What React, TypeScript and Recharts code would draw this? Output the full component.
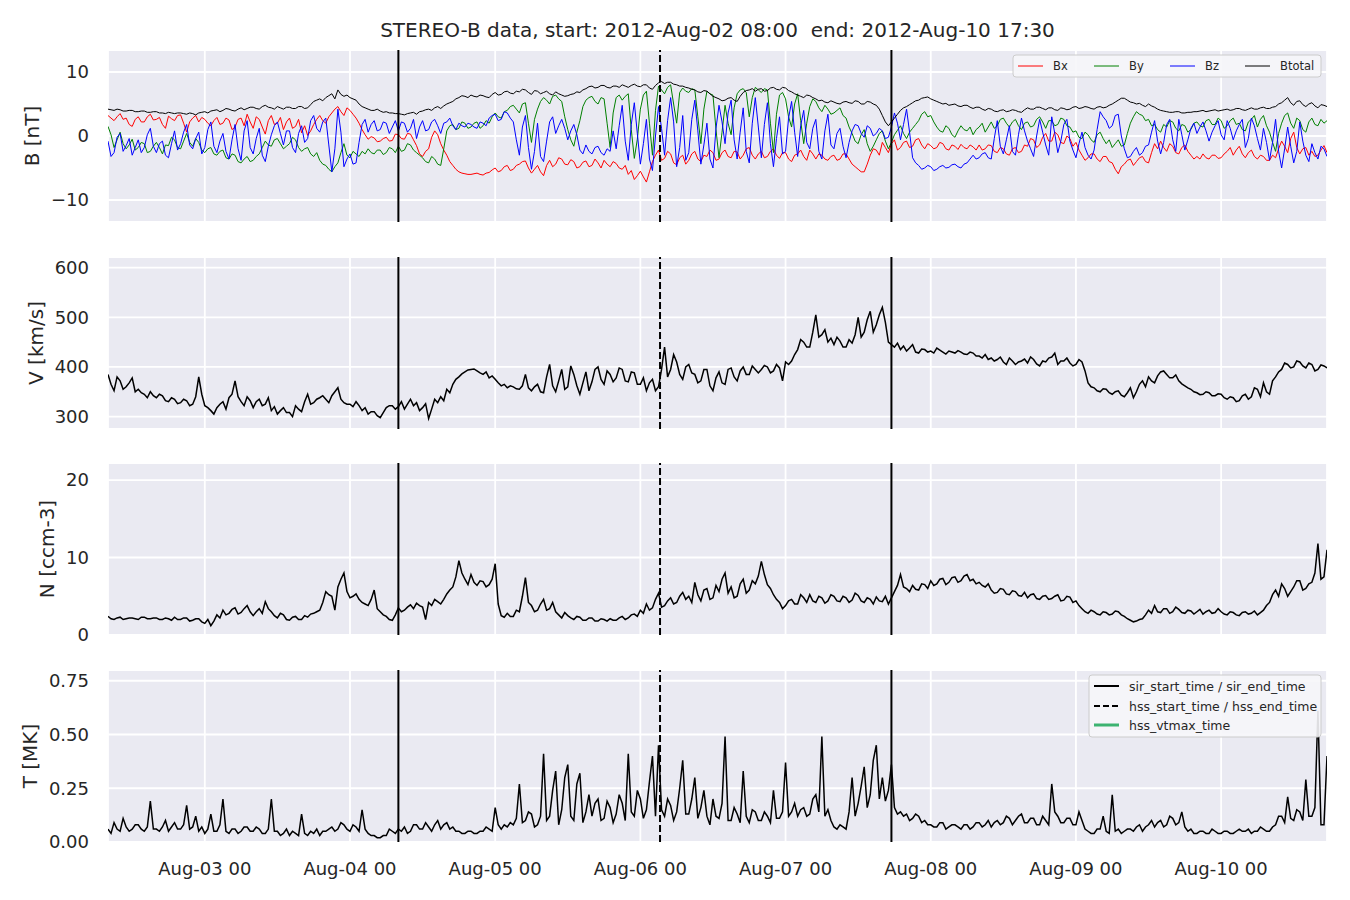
import React from 'react';
import { LineChart, Line, XAxis, YAxis, CartesianGrid, ReferenceLine } from 'recharts';

// ---- time axis ----
const START = Date.UTC(2012, 7, 2, 8, 0);
const END = Date.UTC(2012, 7, 10, 17, 30);
const STEP = 30 * 60 * 1000; // samples every 30 minutes
const TICK_DAYS = [3, 4, 5, 6, 7, 8, 9, 10];
const TICK_LABELS = ['Aug-03 00', 'Aug-04 00', 'Aug-05 00', 'Aug-06 00', 'Aug-07 00', 'Aug-08 00', 'Aug-09 00', 'Aug-10 00'];
const TICK_TIMES = TICK_DAYS.map((d) => Date.UTC(2012, 7, d, 0, 0));
const SIR_TIMES = [Date.UTC(2012, 7, 4, 8, 0), Date.UTC(2012, 7, 7, 17, 30)];
const HSS_TIMES = [Date.UTC(2012, 7, 6, 3, 15)];

const TITLE = 'STEREO-B data, start: 2012-Aug-02 08:00  end: 2012-Aug-10 17:30';

// ---- half-hourly samples from 2012-08-02 08:00 (24 per row = 12 h) ----
const BT = [
  4.2,4.1, 4.0,4.2, 4.1,3.9, 3.9,4.0, 4.0,3.8, 3.8,3.9, 3.9,3.7, 3.7,3.8, 3.8,3.6, 3.6,3.5, 3.7,3.6, 3.5,3.6,
  3.6,3.5, 3.4,3.6, 3.5,3.3, 3.6,3.7, 3.8,3.6, 3.9,4.0, 4.1,3.8, 4.0,4.3, 4.2,4.0, 3.9,4.2, 4.4,4.1, 4.3,4.5,
  4.5,4.3, 4.2,4.6, 4.8,4.5, 4.4,4.2, 4.6,4.4, 4.2,4.5, 4.5,4.3, 4.3,4.6, 4.6,4.3, 4.4,4.9, 5.4,5.6, 5.8,5.5,
  6.0,6.3, 6.6,5.8, 7.2,6.5, 6.2,6.4, 6.0,5.8, 5.6,5.0, 4.6,4.4, 4.2,4.0, 4.0,4.2, 3.9,3.7, 3.8,3.6, 3.6,3.5,
  3.5,3.4, 3.3,3.5, 3.6,3.7, 3.4,3.8, 3.9,4.1, 4.2,4.0, 4.4,4.6, 4.3,4.7, 5.0,5.2, 5.4,5.8, 6.0,6.3, 6.2,6.0,
  6.4,6.2, 6.1,6.4, 6.3,6.1, 6.0,6.5, 6.8,6.4, 6.5,6.9, 7.0,6.7, 6.6,7.0, 6.9,7.3, 7.2,6.8, 6.5,7.1, 7.0,6.6,
  6.8,7.0, 6.6,6.4, 6.9,6.6, 6.4,6.2, 6.3,6.5, 6.6,6.9, 6.8,7.2, 7.4,7.7, 7.8,7.5, 7.6,7.9, 7.9,7.6, 7.5,7.8,
  7.8,7.6, 8.0,7.8, 7.6,7.9, 8.1,7.8, 7.7,8.0, 8.0,7.5, 7.3,7.9, 8.3,8.5, 8.2,8.4, 8.4,8.1, 8.0,7.8, 7.8,7.6,
  7.5,7.3, 7.2,6.9, 6.8,7.1, 7.0,6.6, 6.2,6.0, 5.8,5.5, 5.6,5.9, 6.0,5.6, 5.4,6.2, 6.8,7.1, 7.2,7.4, 7.0,7.3,
  7.4,7.0, 7.1,7.5, 7.6,7.3, 7.2,7.6, 7.5,7.1, 6.9,6.6, 6.4,6.2, 6.0,6.4, 6.3,6.0, 5.8,5.5, 5.6,5.3, 5.2,5.5,
  5.3,5.1, 5.0,5.3, 5.4,5.2, 5.1,5.5, 5.4,5.0, 5.0,5.4, 5.3,5.0, 4.8,4.2, 3.2,2.2, 1.6,2.2, 2.8,3.4, 4.0,4.4,
  4.6,4.9, 5.2,5.5, 5.6,5.9, 6.0,6.1, 5.8,5.6, 5.4,5.2, 5.0,5.1, 4.8,4.9, 5.0,4.7, 4.6,4.8, 4.8,4.5, 4.3,4.5,
  4.5,4.2, 4.0,4.3, 4.2,3.9, 3.8,4.0, 4.1,3.8, 3.9,4.1, 4.0,3.8, 3.7,4.1, 4.4,4.2, 4.2,4.5, 4.5,4.3, 4.1,4.4,
  4.4,4.1, 4.0,4.4, 4.3,4.1, 4.2,4.5, 4.6,4.3, 4.4,4.6, 4.5,4.3, 4.2,4.5, 4.6,4.4, 4.5,4.8, 5.0,5.3, 5.6,5.9,
  5.9,5.6, 5.3,5.2, 5.0,5.1, 4.8,4.6, 5.0,4.7, 4.5,4.2, 4.0,3.9, 3.8,3.7, 3.7,3.8, 3.8,3.6, 3.6,3.7, 3.7,3.8,
  3.8,3.9, 4.0,3.8, 3.9,4.0, 4.1,3.9, 4.0,4.1, 4.2,4.0, 4.1,4.3, 4.3,4.1, 4.0,4.2, 4.4,4.2, 4.2,4.4, 4.5,4.3,
  4.3,4.5, 4.6,5.0, 5.2,5.6, 6.0,5.2, 4.8,5.4, 5.5,4.9, 4.6,5.0, 5.2,4.7, 4.4,4.9, 4.8,4.6,
];

const BX = [
  3.2,2.8, 2.4,3.0, 3.5,2.6, 2.8,1.8, 1.5,2.6, 3.0,2.2, 2.2,3.0, 3.4,2.5, 2.6,2.9, 1.8,1.2, 3.1,2.7, 2.4,3.2,
  3.3,2.0, 0.6,2.2, 2.8,3.2, 2.2,2.9, 2.6,2.0, 1.6,2.4, 2.9,1.8, 2.0,2.8, 2.5,1.0, 1.4,2.6, 2.8,1.6, 3.4,2.2,
  1.2,3.0, 2.6,1.4, 0.3,2.4, 3.2,1.8, 2.0,2.9, 1.0,2.2, 2.8,1.2, 1.5,2.6, 0.5,1.6, 0.1,0.8, 1.8,2.6, 3.2,2.4,
  2.0,3.0, 3.6,4.2, 4.6,3.8, 3.2,4.4, 4.0,3.4, 2.8,2.0, 1.0,0.2, -0.5,-0.1, -0.3,-0.9, -0.8,-0.4, -0.2,-0.8, -0.7,0.3,
  0.2,-0.4, -0.5,0.4, 0.3,-0.6, -1.5,-2.8, -3.2,-2.4, -2.0,-0.2, 0.8,0.2, -1.2,-2.2, -3.0,-4.0, -4.6,-5.2, -5.6,-5.8, -5.9,-6.0,
  -6.0,-5.9, -5.8,-6.0, -6.1,-5.8, -5.7,-5.3, -5.0,-5.6, -5.4,-4.8, -4.6,-5.4, -5.2,-4.6, -4.4,-4.0, -3.9,-5.0, -5.8,-5.2, -4.6,-5.6,
  -6.2,-4.6, -3.8,-4.8, -4.4,-3.4, -3.6,-4.4, -4.5,-3.7, -4.0,-5.0, -4.8,-4.1, -3.9,-4.8, -4.6,-3.6, -4.2,-5.0, -3.8,-4.4, -4.8,-4.0,
  -4.3,-5.0, -5.2,-4.6, -6.0,-5.4, -6.8,-6.2, -5.5,-6.4, -7.2,-5.6, -4.0,-3.0, -2.2,-3.8, -3.5,-2.4, -2.8,-4.2, -4.5,-3.4, -3.0,-4.4,
  -3.8,-2.8, -2.4,-3.6, -4.0,-3.0, -3.2,-2.2, -2.6,-3.8, -3.6,-2.6, -2.2,-3.2, -3.4,-2.4, -2.5,-3.6, -3.0,-2.0, -1.8,-3.0, -3.6,-2.8,
  -2.4,-3.4, -3.2,-2.4, -2.0,-3.0, -3.5,-2.6, -2.6,-3.6, -4.0,-3.0, -2.8,-2.2, -3.2,-3.8, -2.2,-2.8, -3.6,-2.8, -3.0,-3.6, -3.8,-3.2,
  -3.0,-3.8, -3.6,-2.8, -2.8,-3.6, -4.4,-4.8, -5.2,-5.6, -5.6,-4.4, -3.0,-2.0, -2.2,-3.0, -1.0,-1.8, -2.6,-1.2, -0.6,-2.2, -1.8,-1.0,
  -0.8,-1.8, -1.6,-0.6, -0.4,-1.4, -2.0,-1.2, -1.5,-2.0, -1.8,-1.0, -1.2,-2.0, -2.2,-1.4, -1.6,-2.1, -1.3,-1.8, -2.0,-1.4, -1.7,-2.2,
  -1.4,-2.2, -2.0,-1.4, -1.5,-2.4, -2.6,-1.8, -2.0,-2.8, -3.0,-2.0, -1.8,-2.6, -2.4,-1.4, -1.6,-0.4, -0.6,-1.8, -1.4,-0.2, 0.4,-0.8,
  -0.8,0.6, 0.2,-1.0, -1.2,0.0, -0.4,-1.6, -1.0,-2.2, -3.0,-3.8, -3.4,-2.8, -2.8,-3.6, -4.0,-3.2, -3.2,-4.0, -4.2,-5.2, -5.9,-4.8,
  -4.4,-3.8, -3.6,-4.6, -4.0,-3.4, -3.2,-4.0, -4.2,-2.6, -1.2,-2.0, -0.8,-1.8, -2.4,-1.2, -1.6,-2.6, -2.8,-1.8, -1.4,-2.4, -3.0,-3.6,
  -3.2,-3.6, -2.8,-3.4, -3.6,-3.0, -3.0,-3.5, -3.4,-2.8, -2.4,-1.8, -3.0,-2.2, -1.6,-2.8, -3.4,-2.6, -2.2,-3.2, -3.6,-3.0, -3.2,-3.8,
  -3.8,-3.0, -3.4,-2.0, -0.8,-1.6, -2.6,-0.4, 0.6,-1.8, -2.8,-2.0, -1.8,-3.0, -2.4,-3.2, -3.0,-2.2, -1.5,-2.6,
];

const BY = [
  1.5,0.2, -1.8,-0.6, 0.6,-1.2, -2.0,-1.4, -0.5,-2.2, -1.8,-1.0, -1.2,-2.6, -2.4,-1.6, -1.0,-1.8, -2.8,-1.4, -1.5,-0.2, -0.6,-1.8,
  -2.0,-0.8, 0.4,-1.0, -1.6,-0.4, -1.0,-2.2, -2.6,-2.0, -1.8,-2.8, -3.0,-2.4, -2.2,-3.4, -3.6,-2.8, -3.0,-4.0, -4.2,-3.6, -3.2,-4.0,
  -3.8,-3.2, -2.8,-1.8, -0.8,-1.4, -1.6,-0.6, -0.4,-1.2, -2.0,-1.6, -1.2,-0.2, -0.6,-1.8, -2.4,-2.0, -1.8,-2.8, -3.2,-2.6, -3.8,-4.4,
  -4.6,-5.2, -5.6,-4.8, -4.2,-2.6, -1.2,-3.0, -3.4,-2.4, -2.8,-3.2, -2.4,-2.8, -2.0,-2.6, -2.8,-2.2, -2.2,-2.9, -2.6,-1.8, -2.0,-2.6,
  -1.6,-2.4, -2.2,-1.2, -1.4,-2.2, -2.6,-3.0, -3.4,-4.0, -4.2,-3.2, -3.6,-4.4, -4.6,-2.0, 0.8,1.6, 1.8,1.0, 1.2,2.2, 2.0,1.2,
  1.4,2.0, 2.2,1.2, 1.6,2.4, 2.0,3.0, 3.6,3.0, 2.8,3.8, 4.0,4.6, 4.8,4.2, 3.6,5.0, 5.2,2.0, -1.0,2.6, 4.2,5.4,
  6.0,5.6, 5.0,6.2, 6.4,5.8, 5.4,3.0, 1.0,-0.6, -1.6,0.6, 2.4,4.6, 5.6,6.0, 6.2,5.4, 5.0,6.0, 5.8,2.0, -1.8,3.6,
  6.0,6.4, 5.6,6.2, 6.6,1.0, -3.5,-0.5, 4.2,6.4, 7.0,2.0, -3.0,4.0, 7.8,7.2, 6.6,7.6, 8.0,5.0, 2.0,6.8, 7.5,7.0,
  6.8,7.4, 7.2,3.0, -1.2,4.2, 7.0,6.6, 6.4,1.0, -3.4,0.6, 4.8,2.0, 0.2,4.4, 6.6,7.2, 7.4,6.8, 3.0,6.0, 7.6,7.2,
  6.8,7.4, 7.2,2.0, -2.6,3.4, 6.4,6.8, 5.8,3.0, 1.4,5.0, 6.6,2.4, -1.2,2.0, 4.6,5.8, 5.4,4.4, 3.8,4.8, 4.2,3.4,
  3.6,4.0, 4.4,3.2, 2.8,1.4, 0.4,-0.8, -1.2,0.2, 1.0,-1.2, -2.4,-1.6, -0.6,0.4, 0.8,-0.8, -2.0,-1.0, 0.2,0.9, 1.6,0.4,
  -0.4,0.6, 1.2,1.8, 2.4,3.4, 3.8,3.0, 3.2,2.2, 1.4,0.8, 0.6,1.6, 1.2,0.2, -0.2,0.8, 1.6,1.0, 0.8,1.4, 0.2,1.0,
  1.4,2.0, 0.6,1.4, 2.2,1.2, 1.6,2.6, 2.8,2.0, 1.4,2.2, 2.6,1.6, 1.0,2.0, 2.2,1.4, 1.6,2.6, 3.0,2.2, 1.2,2.4,
  2.4,1.6, 1.8,2.8, 2.6,1.6, 1.4,0.6, 0.8,-0.2, -0.4,0.6, 0.2,-0.6, -1.0,0.2, 0.6,-0.4, -1.2,-0.6, -1.8,-1.2, -0.6,-1.6,
  -1.4,0.4, 2.0,3.0, 3.8,3.4, 3.2,2.4, 2.6,1.6, 1.8,1.0, 0.6,1.8, 1.4,2.4, 2.2,1.2, 0.8,1.8, 1.6,0.6, 1.0,2.0,
  2.2,1.6, 1.4,2.4, 2.6,1.8, 1.8,2.8, 2.4,1.2, 1.6,2.4, 2.8,1.8, 2.0,1.0, 0.8,2.2, 2.6,3.2, 1.4,2.6, 3.2,1.6,
  0.6,-1.0, -2.4,0.4, 2.0,3.2, 3.6,2.0, 1.2,2.8, 2.4,1.0, 0.6,2.2, 2.8,1.8, 1.6,2.6, 2.0,2.4,
];

const BZ = [
  -0.8,-3.2, -2.6,-0.2, 0.4,-2.4, -1.5,-0.4, -3.0,-1.8, -0.6,-2.6, -1.8,0.2, 1.2,-1.6, -2.6,-1.2, -0.8,-3.0, -3.4,-1.2, 0.8,-2.2,
  -1.2,0.6, 1.8,-1.4, -2.0,-0.4, 0.6,-2.8, -1.8,1.0, 2.2,-1.6, -2.6,-0.8, 0.4,-2.4, -3.6,-0.6, 1.8,-2.0, -3.8,0.8, 2.4,-1.8,
  -2.8,-0.4, 1.2,-3.0, -4.0,-1.6, 0.2,1.6, 2.2,0.4, -1.4,0.8, 0.8,-1.8, -2.6,0.4, 1.6,-1.0, -0.4,2.4, 3.2,1.2, 0.6,2.2,
  2.8,-1.4, -5.6,-2.0, 4.2,0.6, -4.8,-3.6, -2.8,-4.4, -4.2,-1.0, 1.8,2.6, 0.6,1.8, 2.4,0.8, 1.0,2.2, 2.0,0.4, 1.4,2.4,
  0.8,2.2, 2.0,0.6, 1.2,2.6, -0.4,1.4, 2.4,0.8, 1.0,2.2, 2.6,1.6, 0.4,2.0, 2.2,2.8, 1.6,1.0, 2.0,1.6, 1.4,2.0,
  1.8,1.4, 1.2,2.2, 2.0,1.6, 2.8,3.2, 3.4,2.4, 2.6,3.8, 3.6,2.8, 2.2,-0.6, -3.0,1.4, 3.2,-1.8, -5.2,-2.4, 2.0,-3.2,
  -4.0,-0.8, 2.2,3.0, 0.4,1.6, 2.6,1.2, -0.6,0.8, 1.8,0.2, -2.2,-2.8, -1.4,-2.4, -2.8,-1.8, -1.6,-2.6, -3.0,-2.0, -2.4,0.8,
  -2.0,1.6, 4.8,-0.8, -3.8,1.8, 5.2,0.4, -4.4,-1.2, 2.6,-3.6, -5.4,0.0, 4.6,1.2, -3.0,2.4, 6.0,2.2, -4.8,-1.8, 3.2,-3.8,
  -2.6,2.6, 5.6,0.8, -4.4,-1.4, 2.0,-3.6, -5.0,1.2, 4.8,2.2, -1.2,3.6, 5.6,-0.6, -3.6,0.6, 4.4,-2.4, -4.2,2.0, 6.0,1.4,
  -3.4,1.8, 5.2,-1.2, -4.8,-0.4, 3.0,-2.8, -2.4,2.8, 5.4,0.6, -3.2,1.6, 4.0,-1.0, -2.0,1.2, 2.6,-2.4, -3.6,0.8, 3.4,-1.4,
  -2.0,0.4, 1.2,-1.6, -3.4,-1.0, 0.8,1.8, 1.6,0.4, -0.2,1.6, 1.2,0.0, 0.4,1.2, 0.8,-0.4, -0.2,1.4, 3.6,2.0, -0.6,1.8,
  4.2,0.6, -3.4,-4.2, -4.6,-5.2, -5.0,-4.6, -4.8,-5.4, -5.2,-4.8, -4.6,-5.0, -4.9,-4.5, -4.4,-4.8, -5.0,-4.4, -4.2,-3.6, -3.0,-3.6,
  -3.4,-2.8, -2.6,-3.4, -3.6,-0.4, 2.4,-1.6, -2.8,-0.6, 1.6,-2.4, -3.0,0.2, 2.8,0.8, -0.8,-2.0, -3.2,0.0, 2.6,0.6, -1.4,-3.0,
  3.0,0.4, -2.6,-0.8, 1.8,2.6, -0.8,-2.2, -3.4,-1.2, 0.6,-1.8, -3.0,-3.6, -2.2,1.0, 3.8,3.0, 2.4,1.2, 1.6,3.2, 3.4,0.0,
  -2.0,-3.4, -3.2,-2.4, -1.8,-3.0, -2.6,-1.6, -1.4,0.6, 2.4,-0.8, -2.8,-1.0, 1.8,2.6, -0.6,-2.4, 2.6,0.2, -2.2,-0.6, 1.2,2.0,
  0.4,1.4, 2.2,0.8, -0.8,0.6, 1.6,2.4, 0.2,-0.6, 2.4,1.2, -0.6,0.8, 1.8,2.6, -1.8,-0.4, 2.8,1.6, -0.4,-2.2, 1.2,-1.0,
  -3.8,-1.0, 2.6,-2.4, -5.0,-2.0, 1.4,-1.6, -4.2,-2.4, 2.2,-0.8, -3.0,-4.0, -1.2,-2.6, -3.6,-1.6, -2.0,-3.2,
];

const VEL = [
  385,365, 352,380, 372,355, 360,368, 378,350, 355,348, 345,338, 350,342, 338,345, 342,332, 330,338, 335,326,
  328,335, 332,322, 325,340, 380,345, 322,318, 312,305, 318,325, 330,315, 338,345, 372,340, 330,322, 340,332,
  318,330, 335,322, 325,338, 312,320, 305,312, 318,308, 308,300, 322,315, 310,330, 345,325, 328,335, 338,342,
  335,328, 342,350, 358,335, 328,325, 325,320, 330,322, 312,318, 305,310, 310,302, 298,308, 318,322, 322,315,
  320,330, 315,325, 335,322, 328,312, 318,326, 296,315, 335,328, 340,332, 355,348, 365,375, 380,386, 390,394,
  395,396, 392,388, 385,390, 378,382, 375,368, 362,365, 358,362, 360,356, 355,362, 385,358, 352,360, 365,350,
  348,380, 405,362, 350,372, 395,355, 360,402, 385,362, 345,368, 390,352, 370,395, 400,375, 365,392, 385,370,
  378,398, 395,372, 370,390, 388,365, 365,378, 352,368, 375,352, 360,395, 440,380, 395,425, 410,385, 375,400,
  405,388, 385,368, 372,395, 395,362, 352,378, 390,368, 365,395, 398,380, 372,392, 400,385, 385,402, 395,388,
  395,403, 400,388, 392,405, 398,372, 410,405, 412,425, 435,455, 450,440, 440,470, 505,460, 465,475, 450,458,
  445,460, 452,440, 440,455, 448,465, 500,460, 470,495, 512,470, 485,505, 520,490, 450,445, 440,448, 435,442,
  432,438, 445,430, 428,436, 435,430, 432,428, 438,434, 430,426, 432,430, 428,433, 430,426, 425,430, 428,422,
  422,418, 425,415, 418,412, 415,420, 410,405, 418,412, 405,410, 412,416, 408,420, 415,406, 402,412, 410,418,
  420,428, 405,412, 412,418, 408,402, 405,415, 410,392, 368,360, 358,352, 350,356, 355,348, 345,350, 352,343,
  340,348, 358,338, 350,365, 372,360, 380,372, 368,382, 390,392, 385,378, 378,384, 372,366, 362,358, 355,350,
  348,344, 345,350, 348,342, 342,346, 345,338, 335,340, 338,330, 332,342, 345,335, 340,358, 355,340, 368,350,
  345,372, 380,390, 395,408, 405,398, 400,412, 410,402, 398,408, 405,392, 395,404, 402,398,
];

const DENS = [
  2.4,2.1, 2.0,2.2, 2.3,2.0, 2.1,2.2, 2.2,2.1, 2.0,2.3, 2.3,2.1, 2.1,2.2, 2.2,2.0, 2.0,2.2, 2.1,1.9, 2.3,2.0,
  2.0,2.2, 2.2,1.8, 1.9,2.1, 2.1,1.7, 1.5,2.0, 1.2,1.8, 2.6,2.2, 3.2,2.6, 2.8,3.3, 3.5,2.7, 2.9,3.4, 3.8,3.0,
  2.5,3.0, 3.4,2.8, 4.3,3.4, 3.0,2.5, 2.2,2.8, 2.6,2.0, 1.9,2.3, 2.4,2.0, 2.0,2.5, 2.3,2.7, 2.8,3.0, 3.2,4.2,
  5.6,5.2, 5.0,3.2, 6.2,7.2, 8.0,5.6, 4.8,5.0, 5.3,4.6, 4.2,4.0, 3.8,4.6, 5.8,3.4, 3.0,2.6, 2.4,2.0, 1.9,2.6,
  3.5,3.0, 3.2,3.6, 3.9,3.4, 4.1,3.8, 3.6,2.0, 4.2,3.8, 4.6,4.3, 4.0,4.6, 5.3,5.8, 6.2,7.5, 9.6,8.0, 7.2,6.5,
  7.8,6.8, 6.4,7.0, 6.9,6.2, 6.5,7.2, 9.2,4.0, 2.5,2.3, 2.8,2.4, 2.4,3.2, 3.0,5.0, 7.4,4.2, 3.8,3.0, 3.2,4.0,
  4.6,3.2, 3.4,4.2, 3.0,2.6, 2.2,2.9, 2.5,2.2, 2.0,2.4, 2.3,1.9, 1.9,2.2, 2.2,1.8, 1.8,2.1, 2.0,1.8, 2.1,1.9,
  1.9,2.2, 2.4,2.0, 2.2,2.6, 2.7,2.4, 3.2,2.8, 4.0,3.2, 3.5,4.6, 5.4,3.6, 3.8,4.4, 4.8,4.0, 4.2,5.0, 5.5,4.6,
  5.0,4.2, 6.8,5.2, 4.4,5.8, 6.0,4.6, 4.8,6.4, 5.6,7.2, 8.0,5.4, 6.2,4.8, 5.0,6.6, 7.2,5.4, 5.8,7.0, 6.6,7.6,
  9.5,7.8, 6.5,6.0, 5.2,4.6, 4.2,3.4, 3.8,4.4, 4.6,4.0, 4.0,5.2, 4.8,4.2, 5.2,4.4, 4.2,5.0, 4.8,4.1, 4.4,5.2,
  5.0,4.4, 4.3,5.0, 4.8,4.2, 4.5,5.4, 5.1,4.4, 4.2,4.8, 4.6,4.0, 4.9,4.4, 4.3,5.0, 4.0,4.8, 5.6,6.4, 7.8,6.2,
  6.0,5.6, 6.4,5.9, 5.8,6.6, 6.5,6.0, 7.0,6.4, 6.6,7.2, 7.3,6.5, 6.8,7.4, 7.5,6.8, 7.0,7.6, 7.8,7.0, 7.2,6.6,
  6.8,6.4, 6.2,6.6, 5.8,5.4, 5.5,6.0, 5.9,5.3, 5.2,5.7, 5.6,5.1, 5.0,5.5, 4.8,5.2, 5.3,4.7, 4.6,5.0, 5.1,4.6,
  4.7,5.0, 5.2,4.4, 4.5,5.0, 4.9,4.2, 4.4,3.8, 3.4,3.0, 2.8,3.2, 3.0,2.7, 2.6,3.0, 2.9,2.6, 2.7,3.1, 3.0,2.6,
  2.4,2.1, 1.9,1.7, 1.8,2.0, 2.1,2.6, 3.2,2.8, 3.8,3.0, 2.9,3.4, 3.4,2.8, 3.0,3.6, 3.3,2.9, 2.8,3.2, 3.1,2.7,
  3.0,3.3, 2.7,3.0, 3.2,2.8, 2.9,3.4, 3.0,2.7, 2.6,3.0, 2.9,2.6, 2.5,2.9, 3.0,2.7, 2.8,3.1, 2.6,2.9, 3.2,3.8,
  4.2,5.2, 5.8,5.0, 6.6,6.0, 5.0,5.6, 6.2,7.0, 7.0,5.8, 6.0,6.6, 6.8,8.0, 11.8,7.2, 7.5,11.0,
];

const TEMP = [
  0.06,0.04, 0.09,0.06, 0.05,0.11, 0.07,0.05, 0.06,0.08, 0.08,0.06, 0.05,0.07, 0.19,0.06, 0.06,0.05, 0.07,0.10, 0.05,0.07, 0.09,0.06,
  0.06,0.08, 0.17,0.06, 0.07,0.12, 0.05,0.07, 0.04,0.06, 0.13,0.05, 0.05,0.08, 0.20,0.05, 0.04,0.06, 0.06,0.04, 0.05,0.07, 0.07,0.05,
  0.05,0.07, 0.06,0.04, 0.04,0.06, 0.20,0.05, 0.05,0.03, 0.04,0.06, 0.03,0.05, 0.04,0.03, 0.13,0.04, 0.03,0.05, 0.04,0.06, 0.03,0.05,
  0.05,0.06, 0.07,0.05, 0.06,0.09, 0.08,0.06, 0.05,0.08, 0.07,0.05, 0.15,0.06, 0.04,0.03, 0.03,0.02, 0.02,0.03, 0.03,0.06, 0.05,0.04,
  0.06,0.05, 0.07,0.04, 0.05,0.08, 0.08,0.06, 0.06,0.09, 0.07,0.05, 0.08,0.10, 0.06,0.08, 0.09,0.06, 0.07,0.05, 0.05,0.04, 0.04,0.05,
  0.05,0.04, 0.04,0.05, 0.05,0.07, 0.06,0.05, 0.16,0.08, 0.06,0.08, 0.07,0.09, 0.08,0.11, 0.27,0.09, 0.10,0.14, 0.13,0.07, 0.08,0.12,
  0.41,0.10, 0.12,0.24, 0.33,0.08, 0.15,0.30, 0.36,0.12, 0.10,0.27, 0.32,0.09, 0.14,0.22, 0.12,0.18, 0.20,0.10, 0.11,0.19, 0.16,0.09,
  0.13,0.22, 0.18,0.10, 0.41,0.14, 0.12,0.24, 0.20,0.11, 0.15,0.28, 0.40,0.12, 0.45,0.15, 0.12,0.20, 0.17,0.10, 0.14,0.25, 0.38,0.13,
  0.13,0.20, 0.30,0.11, 0.16,0.24, 0.12,0.08, 0.20,0.12, 0.11,0.18, 0.49,0.10, 0.10,0.16, 0.13,0.09, 0.33,0.12, 0.09,0.15, 0.14,0.10,
  0.10,0.14, 0.12,0.09, 0.24,0.11, 0.11,0.14, 0.37,0.12, 0.14,0.18, 0.12,0.15, 0.16,0.12, 0.13,0.20, 0.22,0.14, 0.49,0.12, 0.15,0.10,
  0.07,0.06, 0.08,0.07, 0.06,0.14, 0.30,0.12, 0.18,0.26, 0.35,0.16, 0.22,0.38, 0.45,0.20, 0.30,0.19, 0.24,0.36, 0.16,0.13, 0.14,0.12,
  0.13,0.10, 0.11,0.13, 0.12,0.09, 0.10,0.08, 0.08,0.07, 0.07,0.09, 0.09,0.06, 0.07,0.08, 0.08,0.07, 0.06,0.08, 0.08,0.06, 0.07,0.09,
  0.09,0.07, 0.08,0.10, 0.07,0.09, 0.10,0.08, 0.09,0.12, 0.11,0.08, 0.10,0.12, 0.13,0.09, 0.09,0.11, 0.11,0.08, 0.08,0.12, 0.10,0.08,
  0.27,0.14, 0.12,0.09, 0.09,0.11, 0.11,0.08, 0.08,0.14, 0.10,0.06, 0.05,0.04, 0.04,0.06, 0.06,0.12, 0.05,0.04, 0.22,0.05, 0.06,0.04,
  0.05,0.06, 0.06,0.05, 0.07,0.08, 0.05,0.07, 0.08,0.10, 0.07,0.09, 0.10,0.07, 0.08,0.12, 0.11,0.08, 0.09,0.14, 0.07,0.05, 0.06,0.04,
  0.04,0.05, 0.05,0.04, 0.04,0.06, 0.05,0.04, 0.04,0.05, 0.05,0.04, 0.04,0.05, 0.06,0.05, 0.05,0.06, 0.04,0.05, 0.05,0.07, 0.06,0.05,
  0.05,0.07, 0.08,0.12, 0.12,0.09, 0.21,0.11, 0.10,0.15, 0.14,0.10, 0.29,0.12, 0.12,0.16, 0.61,0.08, 0.08,0.40,
];

const B_SERIES = [
  { key: 'bx', name: 'Bx', color: '#ff0000' },
  { key: 'by', name: 'By', color: '#008000' },
  { key: 'bz', name: 'Bz', color: '#0000ff' },
  { key: 'bt', name: 'Btotal', color: '#000000' },
];

const EVENT_LEGEND = [
  { name: 'sir_start_time / sir_end_time', color: '#000000', dash: '', width: 2 },
  { name: 'hss_start_time / hss_end_time', color: '#000000', dash: '6 3', width: 2 },
  { name: 'hss_vtmax_time', color: '#3cb371', dash: '', width: 3 },
];

const rows = BX.map((bx, i) => ({
  t: START + i * STEP,
  bx,
  by: BY[i],
  bz: BZ[i],
  bt: BT[i],
  v: VEL[i],
  n: DENS[i],
  temp: TEMP[i],
}));

const FONT = 'DejaVu Sans';
const TXT = '#262626';
const BG = '#eaeaf2';
const TICK_FS = 18;
const LABEL_FS = 20;

const fmtMinus = (v: number) => (v < 0 ? '\u2212' + Math.abs(v) : String(v));

const makeYLabel = (text: string, cx: number) => (props: any) => {
  const vb = props.viewBox || {};
  const cy = (vb.y ?? 0) + (vb.height ?? 0) / 2;
  return (
    <text
      x={cx}
      y={cy}
      transform={`rotate(-90 ${cx} ${cy})`}
      textAnchor="middle"
      dominantBaseline="central"
      fontSize={LABEL_FS}
      fill={TXT}
      fontFamily={FONT}
    >
      {text}
    </text>
  );
};

const EmptyTick = () => <g />;

const refLines = () => [
  ...SIR_TIMES.map((t) => (
    <ReferenceLine key={'sir' + t} x={t} stroke="#000" strokeWidth={2} ifOverflow="visible" />
  )),
  ...HSS_TIMES.map((t) => (
    <ReferenceLine key={'hss' + t} x={t} stroke="#000" strokeWidth={2} strokeDasharray="7 3" ifOverflow="visible" />
  )),
];

type PanelProps = {
  top: number;
  bottomAxis: boolean;
  domain: [number, number];
  ticks: number[];
  fmt: (v: number) => string;
  label: string;
  labelX: number;
  children: React.ReactNode;
};

const PLOT_H = 172;

function Panel({ top, bottomAxis, domain, ticks, fmt, label, labelX, children }: PanelProps) {
  const xh = bottomAxis ? 45 : 14;
  return (
    <div style={{ position: 'absolute', left: 0, top, width: 1350, height: PLOT_H + xh }}>
      <LineChart
        width={1350}
        height={PLOT_H + xh}
        data={rows}
        margin={{ top: 0, right: 23, bottom: 0, left: 0 }}
      >
        <CartesianGrid fill={BG} stroke="#ffffff" strokeWidth={1.8} />
        <XAxis
          dataKey="t"
          type="number"
          domain={[START, END]}
          allowDataOverflow
          ticks={TICK_TIMES}
          interval={0}
          tickFormatter={(v: number) => TICK_LABELS[TICK_TIMES.indexOf(v)] ?? ''}
          height={xh}
          tick={bottomAxis ? { fontSize: TICK_FS, fill: TXT, fontFamily: FONT } : EmptyTick}
          tickLine={false}
          axisLine={false}
          tickSize={0}
          tickMargin={20}
        />
        <YAxis
          type="number"
          domain={domain}
          allowDataOverflow
          ticks={ticks}
          interval={0}
          tickFormatter={fmt}
          width={108}
          tick={{ fontSize: TICK_FS, fill: TXT, fontFamily: FONT }}
          tickLine={false}
          axisLine={false}
          tickSize={0}
          tickMargin={19}
          label={makeYLabel(label, labelX)}
        />
        {children}
        {refLines()}
      </LineChart>
    </div>
  );
}

function BLegend() {
  const xs = [1018, 1094, 1170, 1245];
  return (
    <svg style={{ position: 'absolute', left: 0, top: 0 }} width={1350} height={100}>
      <rect x={1013} y={55} width={308} height={22} rx={3} fill="#f6f6f9" fillOpacity={0.9} stroke="#cccccc" strokeWidth={1} />
      {B_SERIES.map((s, i) => (
        <g key={s.key}>
          <line x1={xs[i]} x2={xs[i] + 25} y1={66} y2={66} stroke={s.color} strokeWidth={1} />
          <text x={xs[i] + 35} y={66} dominantBaseline="central" fontSize={11.5} fill={TXT} fontFamily={FONT}>
            {s.name}
          </text>
        </g>
      ))}
    </svg>
  );
}

function EventLegend() {
  const ys = [686, 706, 725];
  return (
    <svg style={{ position: 'absolute', left: 0, top: 0 }} width={1350} height={900}>
      <rect x={1089} y={675} width={232} height={62} rx={3} fill="#f6f6f9" fillOpacity={0.9} stroke="#cccccc" strokeWidth={1} />
      {EVENT_LEGEND.map((e, i) => (
        <g key={e.name}>
          <line
            x1={1094}
            x2={1119}
            y1={ys[i]}
            y2={ys[i]}
            stroke={e.color}
            strokeWidth={e.width}
            strokeDasharray={e.dash || undefined}
          />
          <text x={1129} y={ys[i]} dominantBaseline="central" fontSize={12.5} fill={TXT} fontFamily={FONT}>
            {e.name}
          </text>
        </g>
      ))}
    </svg>
  );
}

export default function App() {
  return (
    <div
      style={{
        position: 'absolute',
        left: 0,
        top: 0,
        width: 1350,
        height: 900,
        background: '#ffffff',
        fontFamily: FONT,
        overflow: 'hidden',
      }}
    >
      <div
        style={{
          position: 'absolute',
          left: 108,
          width: 1219,
          top: 18,
          lineHeight: '24px',
          textAlign: 'center',
          fontSize: LABEL_FS,
          color: TXT,
          fontFamily: FONT,
          whiteSpace: 'pre',
        }}
      >
        {TITLE}
      </div>

      <Panel top={50} bottomAxis={false} domain={[-13.44, 13.44]} ticks={[-10, 0, 10]} fmt={fmtMinus} label="B [nT]" labelX={32}>
        {B_SERIES.map((s) => (
          <Line
            key={s.key}
            dataKey={s.key}
            name={s.name}
            type="linear"
            stroke={s.color}
            strokeWidth={1}
            dot={false}
            isAnimationActive={false}
          />
        ))}
      </Panel>

      <Panel top={257} bottomAxis={false} domain={[275, 621.5]} ticks={[300, 400, 500, 600]} fmt={(v) => String(v)} label="V [km/s]" labelX={36}>
        <Line dataKey="v" type="linear" stroke="#000" strokeWidth={1.5} dot={false} isAnimationActive={false} />
      </Panel>

      <Panel top={463} bottomAxis={false} domain={[0, 22.2]} ticks={[0, 10, 20]} fmt={(v) => String(v)} label="N [ccm-3]" labelX={47}>
        <Line dataKey="n" type="linear" stroke="#000" strokeWidth={1.5} dot={false} isAnimationActive={false} />
      </Panel>

      <Panel top={670} bottomAxis domain={[0, 0.8]} ticks={[0, 0.25, 0.5, 0.75]} fmt={(v) => v.toFixed(2)} label="T [MK]" labelX={30}>
        <Line dataKey="temp" type="linear" stroke="#000" strokeWidth={1.5} dot={false} isAnimationActive={false} />
      </Panel>

      <BLegend />
      <EventLegend />
    </div>
  );
}
